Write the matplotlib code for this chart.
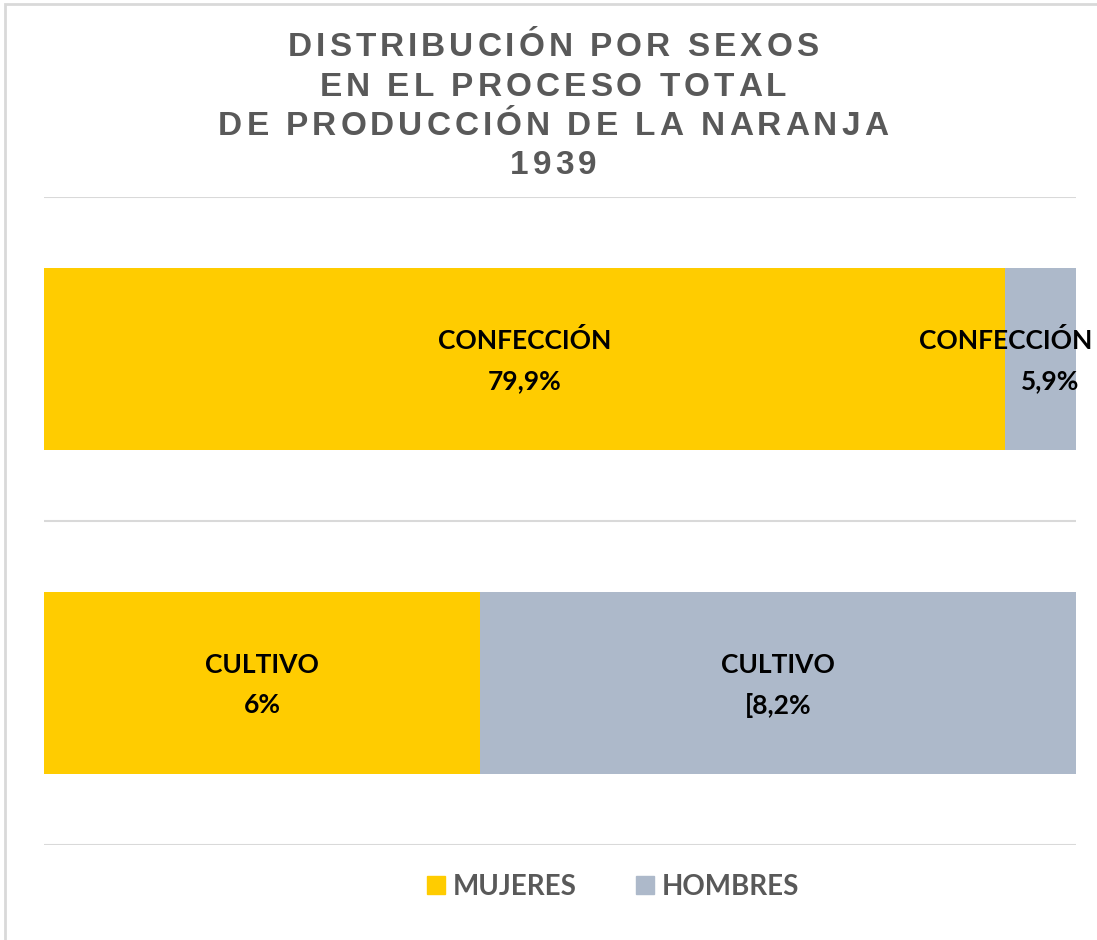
import numpy as np
import matplotlib.pyplot as plt
from matplotlib.patches import Rectangle
from matplotlib.lines import Line2D
from matplotlib.font_manager import FontProperties, findfont, get_font

categorias = ["CULTIVO", "CONFECCIÓN"]
mujeres = [6.0, 79.9]
hombres = [8.2, 5.9]
etiq_mujeres = ["6%", "79,9%"]
etiq_hombres = ["[8,2%", "5,9%"]
titulo = ["DISTRIBUCIÓN POR SEXOS", "EN EL PROCESO TOTAL",
          "DE PRODUCCIÓN DE LA NARANJA", "1939"]

amarillo = "#FFCC00"
gris = "#ADB9CA"
texto_gris = "#595959"
W, H = 1097, 940

muj = np.array(mujeres)
hom = np.array(hombres)
tot = muj + hom
p_muj = muj / tot * 100
p_hom = hom / tot * 100

fig = plt.figure(figsize=(W / 100, H / 100), dpi=100)
ax = fig.add_axes([44 / W, 1 - 845 / H, (1076 - 44) / W, (845 - 197) / H])

y = np.arange(len(categorias))
ax.barh(y, p_muj, height=0.56, color=amarillo, label="MUJERES", zorder=2)
ax.barh(y, p_hom, left=p_muj, height=0.56, color=gris, label="HOMBRES", zorder=2)

ax.set_xlim(0, 100)
ax.set_ylim(-0.5, 1.5)
for g in [-0.5, 0.5, 1.5]:
    ax.axhline(g, color="#D9D9D9", lw=1.5, zorder=1)
for s in ax.spines.values():
    s.set_visible(False)
ax.set_xticks([])
ax.set_yticks([])

lab = dict(fontfamily="Lato", fontweight="bold", fontsize=19, color="black",
           ha="center", va="center", zorder=3)
for i, cat in enumerate(categorias):
    xm = p_muj[i] / 2
    ax.annotate(cat, (xm, y[i]), xytext=(0, 13), textcoords="offset points", **lab)
    ax.annotate(etiq_mujeres[i], (xm, y[i]), xytext=(0, -16), textcoords="offset points", **lab)
    xh = p_muj[i] + p_hom[i] / 2
    dx1, dx2 = (0, 0) if i == 0 else (-25, 7)
    ax.annotate(cat, (xh, y[i]), xytext=(dx1, 13), textcoords="offset points", **lab)
    ax.annotate(etiq_hombres[i], (xh, y[i]), xytext=(dx2, -16), textcoords="offset points", **lab)

# title with letter spacing, drawn char by char
tprop = FontProperties(family="Liberation Sans", weight="bold", size=24)
ft = get_font(findfont(tprop))
ft.set_size(24, 100)
tracking = 4.0
for k, linea in enumerate(titulo):
    adv = [ft.load_char(ord(c)).linearHoriAdvance / 65536 for c in linea]
    total = sum(adv) + tracking * (len(linea) - 1)
    x = 553 - total / 2
    yc = 48 + k * 39.3
    for c, a in zip(linea, adv):
        fig.text(x / W, 1 - yc / H, c, ha="left", va="center", fontproperties=tprop, color=texto_gris)
        x += a + tracking

handles = [Line2D([], [], marker="s", ls="none", markersize=13, color=amarillo),
           Line2D([], [], marker="s", ls="none", markersize=13, color=gris)]
fig.legend(handles, ["MUJERES", "HOMBRES"], loc="center", bbox_to_anchor=(612 / W, 1 - 887 / H),
           ncol=2, frameon=False, handletextpad=0.2, columnspacing=2.05, handlelength=0.8,
           prop=dict(family="Lato", weight="bold", size=20), labelcolor=texto_gris)

fig.patches.append(Rectangle((5 / W, -0.01), 1.1, (H - 4) / H + 0.01,
                             transform=fig.transFigure, fill=False, ec="#D9D9D9", lw=2))

fig.savefig("out.png", dpi=100)
